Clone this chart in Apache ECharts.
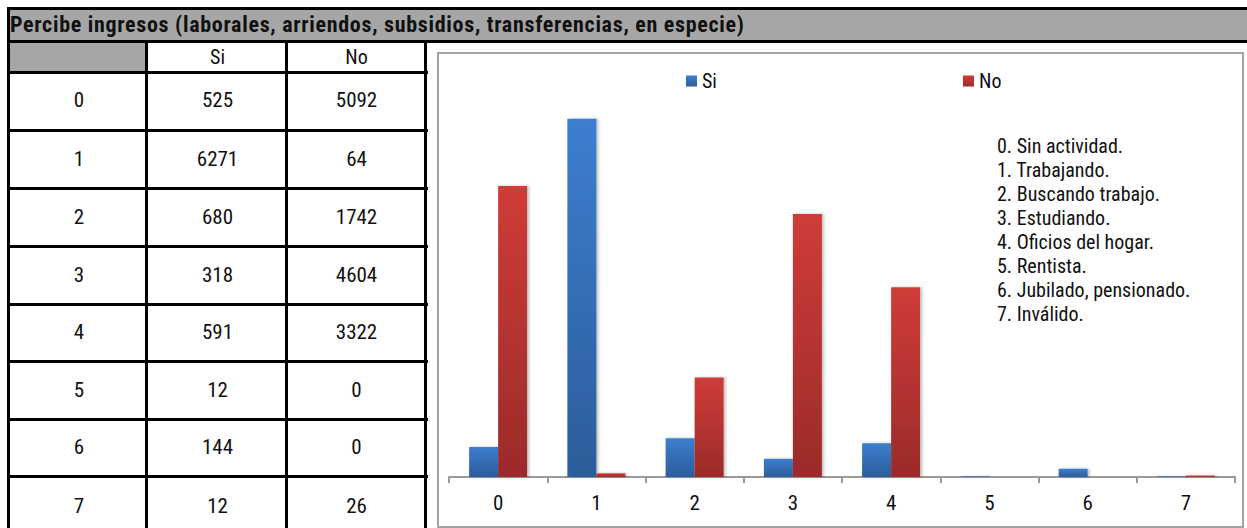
<!DOCTYPE html>
<html>
<head>
<meta charset="utf-8">
<script src="https://cdn.jsdelivr.net/npm/echarts@6/dist/echarts.min.js"></script>
<style>
  html, body { margin: 0; padding: 0; background: #fff; width: 1247px; height: 528px; overflow: hidden; }
  body { position: relative; font-family: "Roboto Condensed", "Liberation Sans", Arial, sans-serif; }
  .abs { position: absolute; }
  .hl { position: absolute; height: 3px; background: #000; }
  .vl { position: absolute; width: 3px; background: #000; }
  .cell { position: absolute; text-align: center; font-size: 21px; color: #111; }
  #title { position: absolute; left: 10px; top: 9px; height: 32px; line-height: 32px; font-weight: bold; font-size: 22px; letter-spacing: 0.7px; color: #111; white-space: nowrap; }
  #box { position: absolute; left: 437px; top: 52px; width: 807px; height: 476px; box-sizing: border-box; border: 2px solid #a3a3a3; }
  #chart { position: absolute; left: 0; top: 0; width: 803px; height: 472px; }
</style>
</head>
<body>
<div id="table"></div>
<div id="box"><div id="chart"></div></div>
<script>
// ---- data ----
const categories = ['0', '1', '2', '3', '4', '5', '6', '7'];
const siValues = [525, 6271, 680, 318, 591, 12, 144, 12];
const noValues = [5092, 64, 1742, 4604, 3322, 0, 0, 26];
const seriesNames = ['Si', 'No'];
const activityLabels = [
  '0. Sin actividad.',
  '1. Trabajando.',
  '2. Buscando trabajo.',
  '3. Estudiando.',
  '4. Oficios del hogar.',
  '5. Rentista.',
  '6. Jubilado, pensionado.',
  '7. Inválido.'
];
const titleText = 'Percibe ingresos (laborales, arriendos, subsidios, transferencias, en especie)';

// ---- table (HTML) ----
(function buildTable() {
  const t = document.getElementById('table');
  function add(cls, style, text) {
    const d = document.createElement('div');
    d.className = cls;
    Object.assign(d.style, style);
    if (text !== undefined) d.textContent = text;
    t.appendChild(d);
    return d;
  }
  add('abs', { left: '8px', top: '9px', width: '1239px', height: '32px', background: '#a6a6a6' });
  add('abs', { left: '8px', top: '41px', width: '139px', height: '32px', background: '#a6a6a6' });
  const ttl = add('', {}, titleText);
  ttl.id = 'title';
  add('hl', { left: '7px', top: '7px', width: '1240px' });
  add('hl', { left: '7px', top: '40px', width: '1240px' });
  add('vl', { left: '7px', top: '7px', height: '521px' });
  const rowY = [41, 72.3, 130, 188.3, 246.7, 304, 361.7, 419.3, 476.7];
  for (let i = 1; i < rowY.length; i++) {
    add('hl', { left: '8px', top: (rowY[i] - 1.5) + 'px', width: '420px' });
  }
  add('vl', { left: '145px', top: '41px', height: '487px' });
  add('vl', { left: '284.5px', top: '41px', height: '487px' });
  add('vl', { left: '423.5px', top: '41px', height: '487px' });
  const cw = [[8, 146], [146, 285], [285, 424]];
  const hdr = ['', seriesNames[0], seriesNames[1]];
  for (let c = 1; c < 3; c++) {
    add('cell', { left: (cw[c][0] + 2) + 'px', width: (cw[c][1] - cw[c][0]) + 'px', top: '42px', height: '30px', lineHeight: '30px', fontSize: '20px' }, hdr[c]);
  }
  const rowsEnd = rowY.concat([536]);
  for (let r = 0; r < categories.length; r++) {
    const y0 = rowY[r + 1], y1 = rowsEnd[r + 2];
    const h = y1 - y0;
    const vals = [categories[r], String(siValues[r]), String(noValues[r])];
    for (let c = 0; c < 3; c++) {
      add('cell', { left: (cw[c][0] + 2) + 'px', width: (cw[c][1] - cw[c][0]) + 'px', top: y0 + 'px', height: h + 'px', lineHeight: h + 'px' }, vals[c]);
    }
  }
})();

// ---- chart ----
const chart = echarts.init(document.getElementById('chart'), null, { renderer: 'svg', width: 803, height: 472 });
const fontFam = '"Roboto Condensed", "Liberation Sans", Arial, sans-serif';
function grad(top, bottom) {
  return new echarts.graphic.LinearGradient(0, 0, 0, 1, [
    { offset: 0, color: top }, { offset: 1, color: bottom }
  ]);
}
const blue = grad('#3d7ece', '#2c5d9a');
const red = grad('#cf3c38', '#9b2b29');
const legendText = { fontSize: 20, lineHeight: 20, color: '#111', fontFamily: fontFam };
chart.setOption({
  animation: false,
  textStyle: { fontFamily: fontFam },
  legend: [
    { data: [seriesNames[0]], left: 247, top: 17, padding: 0, itemWidth: 11, itemHeight: 11, itemGap: 0, icon: 'rect', textStyle: legendText },
    { data: [seriesNames[1]], left: 524, top: 17, padding: 0, itemWidth: 11, itemHeight: 11, itemGap: 0, icon: 'rect', textStyle: legendText }
  ],
  grid: { left: 10, right: 7, top: 23, height: 400 },
  xAxis: {
    type: 'category',
    data: categories,
    axisLine: { lineStyle: { color: '#9a9a9a', width: 2 } },
    axisTick: { show: true, length: 6, lineStyle: { color: '#9a9a9a', width: 2 } },
    axisLabel: { fontSize: 21, color: '#111', margin: 15, fontFamily: fontFam }
  },
  yAxis: {
    type: 'value', min: 0, max: 7000, interval: 1000,
    show: false, splitLine: { show: false }
  },
  graphic: [{
    type: 'text', left: 558, top: 80,
    style: { text: activityLabels.join('\n'), fontSize: 20, lineHeight: 24, fill: '#111', fontFamily: fontFam }
  }],
  series: [
    {
      name: seriesNames[0], type: 'bar', data: siValues, barWidth: 29, barGap: '0%',
      itemStyle: { color: blue, shadowColor: 'rgba(0,0,0,0.25)', shadowBlur: 3, shadowOffsetX: 2 }
    },
    {
      name: seriesNames[1], type: 'bar', data: noValues, barWidth: 29, barGap: '0%',
      itemStyle: { color: red, shadowColor: 'rgba(0,0,0,0.25)', shadowBlur: 3, shadowOffsetX: 2 }
    }
  ]
});
</script>
</body>
</html>
